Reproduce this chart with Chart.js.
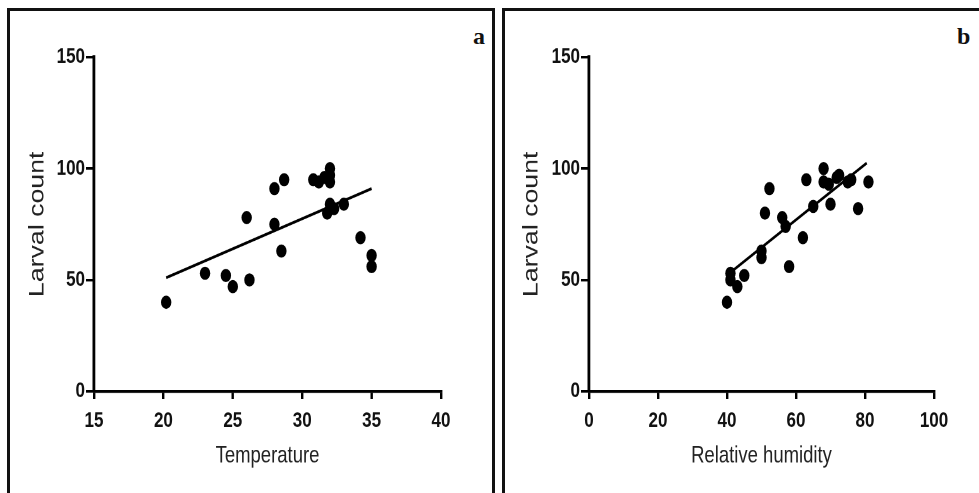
<!DOCTYPE html>
<html>
<head>
<meta charset="utf-8">
<script src="https://cdn.jsdelivr.net/npm/chart.js@4/dist/chart.umd.min.js"></script>
<style>
  body { margin: 0; background: #fff; width: 979px; height: 493px; overflow: hidden; position: relative; }
  .frame { position: absolute; border: 3px solid #111; border-bottom: none; }
  .panel-letter { position: absolute; font: bold 24px 'Liberation Serif', 'DejaVu Serif', serif; line-height: 24px; color: #111; }
  /* the source figure is stretched vertically, so each chart is drawn flat and stretched */
  .stretch { position: absolute; top: 0; height: 388px; transform: scaleY(1.2706); transform-origin: 0 0; }
</style>
</head>
<body>
<div class="frame" style="left:7px; top:8px; width:482px; height:500px;"></div>
<div class="frame" style="left:502px; top:8px; width:500px; height:500px; border-right:none;"></div>
<div class="panel-letter" style="left:473px; top:24px;">a</div>
<div class="panel-letter" style="left:957px; top:24px;">b</div>
<div class="stretch" style="left:0px; width:494px;"><canvas id="chart-a" width="494" height="388" style="width:494px;height:388px;"></canvas></div>
<div class="stretch" style="left:494px; width:485px;"><canvas id="chart-b" width="485" height="388" style="width:485px;height:388px;"></canvas></div>
<script>
// panel a: temperature vs larval count
var tempX = [20.2, 23, 24.5, 25, 26.2, 26, 28, 28.7, 28, 28.5, 30.8, 31.2, 31.6, 32, 32, 32, 31.8, 32, 32.3, 33, 34.2, 35, 35];
var tempCount = [40, 53, 52, 47, 50, 78, 91, 95, 75, 63, 95, 94, 96, 100, 97, 94, 80, 84, 82, 84, 69, 61, 56];
var tempFitX = [20.2, 35];
var tempFitY = [51, 91];

// panel b: relative humidity vs larval count
var humX = [40, 41, 41, 43, 45, 50, 50, 51, 52.3, 56, 57, 58, 62, 63, 65, 68, 68, 69.5, 70, 71.8, 72.5, 75, 76, 78, 81];
var humCount = [40, 53, 50, 47, 52, 63, 60, 80, 91, 78, 74, 56, 69, 95, 83, 100, 94, 93, 84, 96, 97, 94, 95, 82, 94];
var humFitX = [41.5, 80.5];
var humFitY = [54, 102.5];

var tempTicks = [15, 20, 25, 30, 35, 40];
var humTicks = [0, 20, 40, 60, 80, 100];
var countTicks = [0, 50, 100, 150];

var sans = "'Liberation Sans', Arial, sans-serif";

function toPoints(xs, ys) {
  return xs.map(function (x, i) { return { x: x, y: ys[i] }; });
}

function makeChart(id, xs, ys, fitX, fitY, xTicks, xTitle, yWidth, rightPad) {
  var ctx = document.getElementById(id).getContext('2d');
  return new Chart(ctx, {
    type: 'scatter',
    data: {
      datasets: [{
        data: toPoints(xs, ys),
        backgroundColor: '#000',
        borderWidth: 0,
        pointRadius: 5.2,
        pointHoverRadius: 5.2
      }, {
        type: 'line',
        data: toPoints(fitX, fitY),
        borderColor: '#000',
        borderWidth: 2.2,
        pointRadius: 0,
        fill: false
      }]
    },
    options: {
      responsive: false,
      animation: false,
      devicePixelRatio: 2,
      layout: { padding: { top: 45, right: rightPad, bottom: 0, left: 0 } },
      plugins: { legend: { display: false }, tooltip: { enabled: false } },
      scales: {
        x: {
          type: 'linear',
          min: xTicks[0],
          max: xTicks[xTicks.length - 1],
          ticks: { stepSize: xTicks[1] - xTicks[0], color: '#111', font: { family: sans, size: 17, weight: 'bold' }, padding: 7 },
          grid: { drawOnChartArea: false, color: '#000', lineWidth: 2.4, tickLength: 6 },
          border: { color: '#000', width: 2.2 },
          title: {
            display: true, text: xTitle, color: '#222',
            font: { family: sans, size: 18.5 },
            padding: { top: 0, bottom: 18 }
          },
          afterFit: function (scale) { scale.height = 80; }
        },
        y: {
          min: countTicks[0],
          max: countTicks[countTicks.length - 1],
          ticks: { stepSize: countTicks[1] - countTicks[0], color: '#111', font: { family: sans, size: 17, weight: 'bold' }, padding: 1 },
          grid: { drawOnChartArea: false, color: '#000', lineWidth: 2, tickLength: 8 },
          border: { color: '#000', width: 2.8 },
          title: {
            display: true, text: 'Larval count', color: '#222',
            font: { family: sans, size: 21 },
            padding: { top: 25, bottom: 0 }
          },
          afterFit: function (scale) { scale.width = yWidth; }
        }
      }
    }
  });
}

makeChart('chart-a', tempX, tempCount, tempFitX, tempFitY, tempTicks, 'Temperature', 94, 53);
makeChart('chart-b', humX, humCount, humFitX, humFitY, humTicks, 'Relative humidity', 95, 45);
</script>
</body>
</html>
